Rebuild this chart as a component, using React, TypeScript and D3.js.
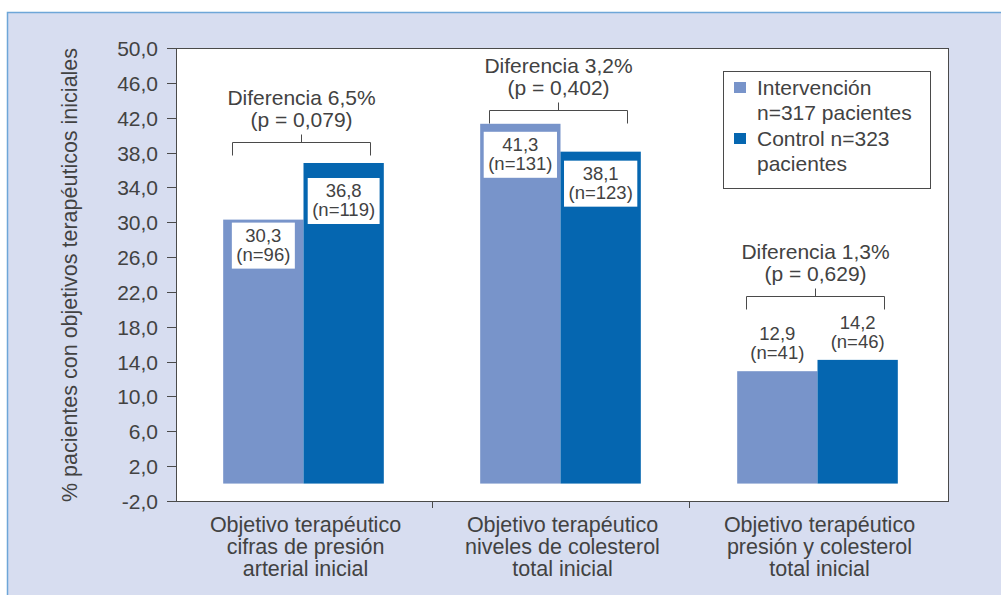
import React from "react";
import * as d3 from "d3";

// ---- data ----
const categories: string[][] = [
  ["Objetivo terapéutico", "cifras de presión", "arterial inicial"],
  ["Objetivo terapéutico", "niveles de colesterol", "total inicial"],
  ["Objetivo terapéutico", "presión y colesterol", "total inicial"],
];
const seriesKeys = ["intervencion", "control"];
const legendLines: string[][] = [
  ["Intervención", "n=317 pacientes"],
  ["Control n=323", "pacientes"],
];
const intervencion = [30.3, 41.3, 12.9];
const control = [36.8, 38.1, 14.2];
const nIntervencion = [96, 131, 41];
const nControl = [119, 123, 46];
const diferencias = ["6,5%", "3,2%", "1,3%"];
const pValores = ["0,079", "0,402", "0,629"];
const yTicks = [-2, 2, 6, 10, 14, 18, 22, 26, 30, 34, 38, 42, 46, 50];
const yTitle = "% pacientes con objetivos terapéuticos iniciales";

// ---- style / layout ----
const W = 1001;
const H = 595;
const FONT = "'Liberation Sans', Arial, Helvetica, sans-serif";
const TXT = "#424242";
const BG = "#d7ddf0";
const FRAME = "#6ea6d8";
const AXIS = "#4a4a4a";
const C_INT = "#7894ca";
const C_CTL = "#0566b0";
const colors = [C_INT, C_CTL];

const plot = { left: 176, right: 948, top: 48, bottom: 501 };

// label layout (offsets from bar tops)
const insideLabel = [true, true, false];
const boxOffsets = [
  [3, 15],
  [8, 9],
  [0, 0],
];
const bracketOffsets = [21, 14, 64];

function measure(text: string, size: number): number {
  const c = document.createElement("canvas").getContext("2d");
  if (!c) return text.length * size * 0.5;
  c.font = `${size}px 'Liberation Sans'`;
  return c.measureText(text).width;
}

const fmt = (v: number) => v.toFixed(1).replace(".", ",");

export default function App() {
  const y = d3.scaleLinear().domain([-2, 50]).range([plot.bottom, plot.top]);
  const x0 = d3
    .scaleBand<number>()
    .domain(categories.map((_, i) => i))
    .range([175, 946])
    .padding(0);
  const x1 = d3
    .scaleBand<string>()
    .domain(seriesKeys)
    .range([0, x0.bandwidth()])
    .paddingInner(0)
    .paddingOuter(0.6);

  const values = [intervencion, control];
  const ns = [nIntervencion, nControl];

  const separators = x0.domain().slice(1).map((d) => x0(d) as number);

  return (
    <svg
      width={W}
      height={H}
      style={{ position: "absolute", left: 0, top: 0, display: "block" }}
      fontFamily={FONT}
    >
      {/* outer frame */}
      <rect x={7.5} y={12.5} width={W + 20} height={H + 20} fill={BG} stroke={FRAME} strokeWidth={1.5} />
      {/* plot area */}
      <rect
        x={plot.left}
        y={plot.top}
        width={plot.right - plot.left}
        height={plot.bottom - plot.top}
        fill="#ffffff"
        stroke={AXIS}
        strokeWidth={1}
        shapeRendering="crispEdges"
      />

      {/* y ticks */}
      {yTicks.map((t) => (
        <g key={t} transform={`translate(0,${Math.round(y(t)) + 0.5})`}>
          <line x1={167} x2={plot.left} stroke={AXIS} strokeWidth={1} />
          <text x={158} dy="0.36em" textAnchor="end" fontSize={21} fill={TXT}>
            {fmt(t)}
          </text>
        </g>
      ))}

      {/* y title */}
      <text
        transform={`translate(77,${(45 + 505) / 2}) rotate(-90)`}
        textAnchor="middle"
        fontSize={21.5}
        fill={TXT}
      >
        {yTitle}
      </text>

      {/* x separators */}
      {separators.map((sx, i) => (
        <line key={i} x1={sx + 0.5} x2={sx + 0.5} y1={plot.bottom} y2={plot.bottom + 7} stroke={AXIS} />
      ))}

      {/* x labels */}
      {categories.map((lines, i) => {
        const cx = (x0(i) as number) + x0.bandwidth() / 2 + 2;
        return (
          <text key={i} textAnchor="middle" fontSize={21.5} fill={TXT}>
            {lines.map((l, j) => (
              <tspan key={j} x={cx} y={532 + j * 22}>
                {l}
              </tspan>
            ))}
          </text>
        );
      })}

      {/* bars */}
      {categories.map((_, i) => (
        <g key={i} transform={`translate(${x0(i)},0)`}>
          {seriesKeys.map((k, s) => {
            const bx = x1(k) as number;
            const v = values[s][i];
            return (
              <rect
                key={k}
                x={bx}
                y={y(v)}
                width={x1.bandwidth()}
                height={y(0) - y(v)}
                fill={colors[s]}
              />
            );
          })}
        </g>
      ))}

      {/* bar labels */}
      {categories.map((_, i) =>
        seriesKeys.map((k, s) => {
          const bx = (x0(i) as number) + (x1(k) as number);
          const cx = bx + x1.bandwidth() / 2;
          const v = values[s][i];
          const l1 = fmt(v);
          const l2 = `(n=${ns[s][i]})`;
          const top = y(v);
          if (insideLabel[i]) {
            const tw = Math.max(measure(l1, 18.5), measure(l2, 18.5));
            const bw = tw + 9;
            const by = top + boxOffsets[i][s];
            return (
              <g key={`${i}-${k}`}>
                <rect x={cx - bw / 2} y={by} width={bw} height={46} fill="#ffffff" />
                <text x={cx} y={by + 19} textAnchor="middle" fontSize={18.5} fill={TXT}>
                  {l1}
                </text>
                <text x={cx} y={by + 38} textAnchor="middle" fontSize={18.5} fill={TXT}>
                  {l2}
                </text>
              </g>
            );
          }
          return (
            <g key={`${i}-${k}`}>
              <text x={cx} y={top - 31} textAnchor="middle" fontSize={18.5} fill={TXT}>
                {l1}
              </text>
              <text x={cx} y={top - 12} textAnchor="middle" fontSize={18.5} fill={TXT}>
                {l2}
              </text>
            </g>
          );
        })
      )}

      {/* difference brackets */}
      {categories.map((_, i) => {
        const gx = (x0(i) as number) + x0.bandwidth() / 2 - 2;
        const maxV = Math.max(intervencion[i], control[i]);
        const by = Math.round(y(maxV) - bracketOffsets[i]) + 0.5;
        const hw = 69;
        return (
          <g key={i}>
            <path
              d={`M${gx - hw},${by + 13}V${by}H${gx + hw}V${by + 13}M${gx},${by}V${by - 8}`}
              fill="none"
              stroke={AXIS}
              strokeWidth={1}
            />
            <text x={gx} y={by - 38} textAnchor="middle" fontSize={21} fill={TXT}>
              {`Diferencia ${diferencias[i]}`}
            </text>
            <text x={gx} y={by - 16} textAnchor="middle" fontSize={21} fill={TXT}>
              {`(p = ${pValores[i]})`}
            </text>
          </g>
        );
      })}

      {/* legend */}
      <g>
        <rect x={723.5} y={71.5} width={207} height={117} fill="#ffffff" stroke={AXIS} strokeWidth={1} />
        {legendLines.map((lines, s) => {
          const base = s === 0 ? 95 : 146;
          return (
            <g key={s}>
              <rect x={734} y={base - 13} width={12} height={11} fill={colors[s]} />
              {lines.map((l, j) => (
                <text key={j} x={757} y={base + j * 25} fontSize={21} fill={TXT}>
                  {l}
                </text>
              ))}
            </g>
          );
        })}
      </g>
    </svg>
  );
}
